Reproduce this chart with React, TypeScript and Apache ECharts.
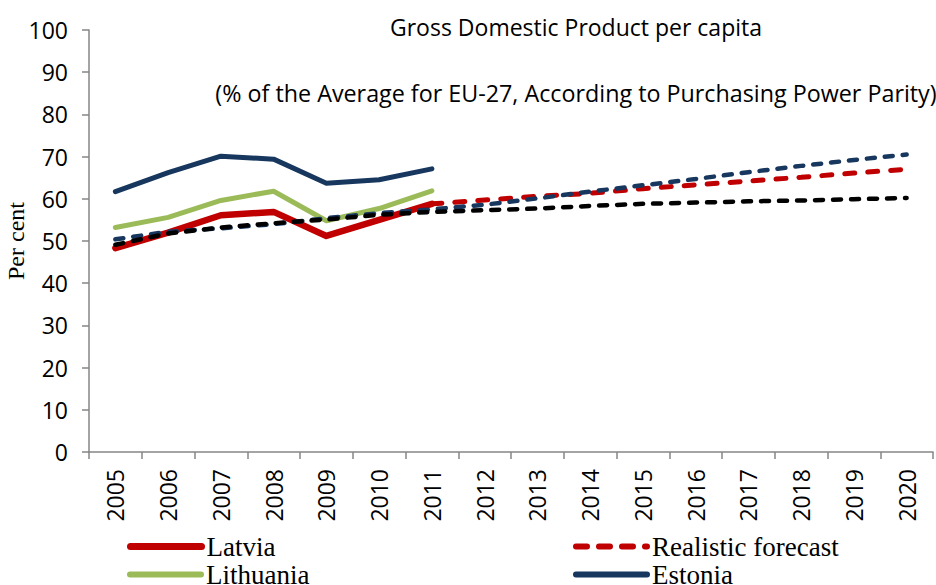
import React, { useEffect, useRef } from "react";
import * as echarts from "echarts";

const years = ["2005", "2006", "2007", "2008", "2009", "2010", "2011", "2012", "2013", "2014", "2015", "2016", "2017", "2018", "2019", "2020"];

const latvia = [48.3, 52.0, 56.1, 56.9, 51.2, 55.0, 58.8, null, null, null, null, null, null, null, null, null];
const lithuania = [53.2, 55.6, 59.6, 61.8, 54.8, 57.7, 61.9, null, null, null, null, null, null, null, null, null];
const estonia = [61.7, 66.2, 70.1, 69.4, 63.7, 64.5, 67.1, null, null, null, null, null, null, null, null, null];
const realisticForecast = [null, null, null, null, null, null, 58.8, 59.7, 60.6, 61.3, 62.4, 63.3, 64.2, 65.1, 66.1, 67.0];
const estoniaForecast = [50.4, 52.2, 53.0, 54.0, 55.4, 56.6, 57.5, 58.6, 60.1, 61.7, 63.2, 64.7, 66.3, 67.8, 69.2, 70.5];
const trendForecast = [49.1, 51.8, 53.2, 54.2, 55.1, 56.2, 56.9, 57.3, 57.7, 58.3, 58.8, 59.1, 59.4, 59.6, 59.9, 60.2];

const titleText = "Gross Domestic Product per capita";
const subtitleText = "(% of the Average for EU-27, According to Purchasing Power Parity)";

const SANS = "'Open Sans', 'Liberation Sans', sans-serif";
const SERIF = "'Liberation Serif', 'DejaVu Serif', serif";

function legendAt(name: string, left: number, top: number, lineStyle: any) {
  return {
    data: [name],
    orient: "horizontal",
    left,
    top,
    itemWidth: 71,
    itemHeight: 14,
    itemGap: 0,
    padding: 0,
    itemStyle: { opacity: 0 },
    lineStyle,
    textStyle: { fontFamily: SERIF, fontSize: 27, color: "#000", lineHeight: 26, padding: 0 },
  };
}

export default function App() {
  const ref = useRef<HTMLDivElement>(null);
  useEffect(() => {
    document.body.style.margin = "0";
    const chart = echarts.init(ref.current!, null, { renderer: "svg" });
    const axisGray = "#868686";
    chart.setOption({
      animation: false,
      backgroundColor: "#ffffff",
      grid: { left: 89, right: 3, top: 30, bottom: 133, containLabel: false, outerBoundsMode: "none" },
      graphic: [
        {
          type: "text",
          x: 576,
          y: 27,
          style: { text: titleText, align: "center", verticalAlign: "middle", fontSize: 23, fontFamily: SANS, fill: "#000" },
        },
        {
          type: "text",
          x: 576,
          y: 93,
          style: { text: subtitleText, align: "center", verticalAlign: "middle", fontSize: 23.3, fontFamily: SANS, fill: "#000" },
        },
      ],
      legend: [
        legendAt("Latvia", 127, 533, { width: 7, cap: "round", type: "solid" }),
        legendAt("Lithuania", 127, 561, { width: 6, cap: "round", type: "solid" }),
        legendAt("Realistic forecast", 573, 533, { width: 6, cap: "round", type: [11, 12] }),
        legendAt("Estonia", 573, 561, { width: 6, cap: "round", type: "solid" }),
      ],
      xAxis: {
        type: "category",
        data: years,
        boundaryGap: true,
        axisLine: { lineStyle: { color: axisGray, width: 1.5 } },
        axisTick: { show: true, length: 7, lineStyle: { color: axisGray, width: 1.5 }, alignWithLabel: false },
        axisLabel: { rotate: 90, fontSize: 23, fontFamily: SANS, color: "#000", margin: 17 },
        splitLine: { show: false },
      },
      yAxis: {
        type: "value",
        min: 0,
        max: 100,
        interval: 10,
        name: "Per cent",
        nameLocation: "middle",
        nameGap: 61,
        nameMoveOverlap: false,
        nameTextStyle: { fontFamily: SERIF, fontSize: 24, color: "#000" },
        axisLine: { show: true, lineStyle: { color: axisGray, width: 1.5 } },
        axisTick: { show: true, length: 7, lineStyle: { color: axisGray, width: 1.5 } },
        axisLabel: { fontSize: 23, fontFamily: SANS, color: "#000", margin: 21 },
        splitLine: { show: false },
      },
      series: [
        {
          name: "Latvia",
          type: "line",
          data: latvia,
          showSymbol: false,
          symbol: "none",
          lineStyle: { color: "#C00000", width: 6.5, cap: "round", join: "round" },
          itemStyle: { color: "#C00000" },
        },
        {
          name: "Lithuania",
          type: "line",
          data: lithuania,
          showSymbol: false,
          symbol: "none",
          lineStyle: { color: "#9BBB59", width: 5, cap: "round", join: "round" },
          itemStyle: { color: "#9BBB59" },
        },
        {
          name: "Estonia",
          type: "line",
          data: estonia,
          showSymbol: false,
          symbol: "none",
          lineStyle: { color: "#17375E", width: 5, cap: "round", join: "round" },
          itemStyle: { color: "#17375E" },
        },
        {
          name: "Realistic forecast",
          type: "line",
          data: realisticForecast,
          showSymbol: false,
          symbol: "none",
          lineStyle: { color: "#C00000", width: 5, type: [10, 13], cap: "round" },
          itemStyle: { color: "#C00000" },
        },
        {
          name: "Estonia forecast",
          type: "line",
          data: estoniaForecast,
          showSymbol: false,
          symbol: "none",
          lineStyle: { color: "#17375E", width: 4.5, type: [8, 10], cap: "round" },
          itemStyle: { color: "#17375E" },
        },
        {
          name: "Trend forecast",
          type: "line",
          data: trendForecast,
          showSymbol: false,
          symbol: "none",
          lineStyle: { color: "#000000", width: 4.5, type: [8, 10], cap: "round" },
          itemStyle: { color: "#000000" },
        },
      ],
    });
    return () => chart.dispose();
  }, []);
  return <div ref={ref} style={{ width: 936, height: 585 }} />;
}
